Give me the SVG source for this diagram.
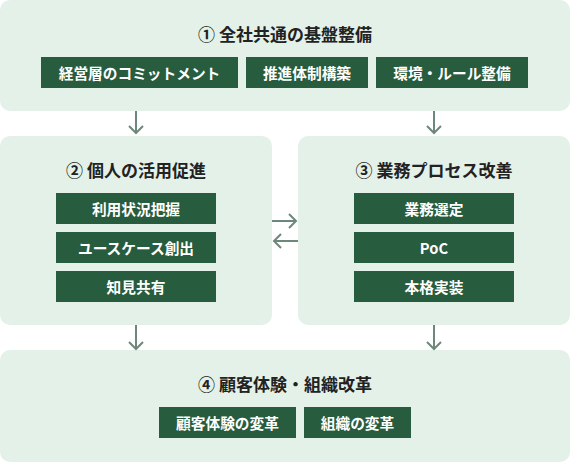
<svg xmlns="http://www.w3.org/2000/svg" width="570" height="462" viewBox="0 0 570 462">
<style>
.panel{fill:#e4f1e9}
.box{fill:#275c3e}
.title{font-family:"Noto Sans CJK JP","Noto Sans",sans-serif;font-weight:700;font-size:17px;fill:#222;text-anchor:middle;dominant-baseline:central}
.lbl{font-family:"Noto Sans CJK JP","Noto Sans",sans-serif;font-weight:700;font-size:14.7px;fill:#fff;text-anchor:middle;dominant-baseline:central}
.arr{fill:none;stroke:#6d887b;stroke-width:2}
</style>
<rect width="570" height="462" fill="#fff"/>
<g id="node1">
<rect class="panel" x="0" y="0" width="570" height="111" rx="10"/>
<text class="title" x="285" y="33">① 全社共通の基盤整備</text>
<rect class="box" x="41" y="57" width="197" height="31"/>
<text class="lbl" x="139.5" y="72.5">経営層のコミットメント</text>
<rect class="box" x="246" y="57" width="122" height="31"/>
<text class="lbl" x="307" y="72.5">推進体制構築</text>
<rect class="box" x="376" y="57" width="152" height="31"/>
<text class="lbl" x="452" y="72.5">環境・ルール整備</text>
</g>
<g id="node2">
<rect class="panel" x="0" y="136" width="272" height="189" rx="10"/>
<text class="title" x="136" y="169">② 個人の活用促進</text>
<rect class="box" x="56" y="193" width="160" height="31"/>
<text class="lbl" x="136" y="208.5">利用状況把握</text>
<rect class="box" x="56" y="232" width="160" height="31"/>
<text class="lbl" x="136" y="247.5">ユースケース創出</text>
<rect class="box" x="56" y="271" width="160" height="31"/>
<text class="lbl" x="136" y="286.5">知見共有</text>
</g>
<g id="node3">
<rect class="panel" x="298" y="136" width="272" height="189" rx="10"/>
<text class="title" x="434" y="169">③ 業務プロセス改善</text>
<rect class="box" x="354" y="193" width="160" height="31"/>
<text class="lbl" x="434" y="208.5">業務選定</text>
<rect class="box" x="354" y="232" width="160" height="31"/>
<text class="lbl" x="434" y="247.5">PoC</text>
<rect class="box" x="354" y="271" width="160" height="31"/>
<text class="lbl" x="434" y="286.5">本格実装</text>
</g>
<g id="node4">
<rect class="panel" x="0" y="350" width="570" height="112" rx="10"/>
<text class="title" x="285" y="383">④ 顧客体験・組織改革</text>
<rect class="box" x="159" y="407" width="137" height="31"/>
<text class="lbl" x="227.5" y="422.5">顧客体験の変革</text>
<rect class="box" x="304" y="407" width="107" height="31"/>
<text class="lbl" x="357.5" y="422.5">組織の変革</text>
</g>
<g id="connectors">
<path class="arr" d="M136 111V133M129 126L136 133L143 126"/>
<path class="arr" d="M434 111V133M427 126L434 133L441 126"/>
<path class="arr" d="M136 325V349M129 342L136 349L143 342"/>
<path class="arr" d="M434 325V349M427 342L434 349L441 342"/>
<path class="arr" d="M272 221H296M289 214L296 221L289 228"/>
<path class="arr" d="M298 241H274M281 234L274 241L281 248"/>
</g>
</svg>
